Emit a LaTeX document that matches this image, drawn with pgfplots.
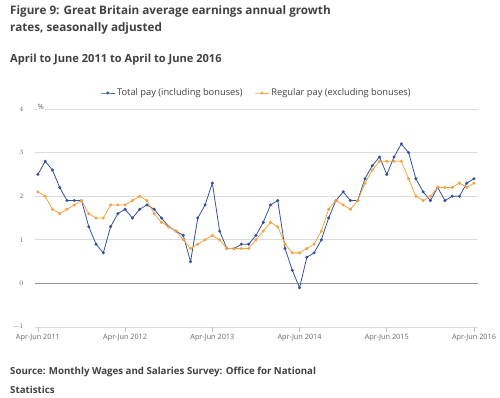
\documentclass[border=0pt]{standalone}
\usepackage{pgfplots}
\pgfplotsset{compat=1.18}
\usepackage{fontspec}
\setmainfont{Open Sans}
\definecolor{tpay}{HTML}{34529F}
\definecolor{rpay}{HTML}{F4A23E}
\definecolor{txt}{HTML}{414042}
\definecolor{ticktxt}{HTML}{666666}
\definecolor{gridc}{HTML}{DDDDDD}

\pgfplotstableread{
idx total regular
0 2.5 2.1
1 2.8 2.0
2 2.6 1.7
3 2.2 1.6
4 1.9 1.7
5 1.9 1.8
6 1.9 1.9
7 1.3 1.6
8 0.9 1.5
9 0.7 1.5
10 1.3 1.8
11 1.6 1.8
12 1.7 1.8
13 1.5 1.9
14 1.7 2.0
15 1.8 1.9
16 1.7 1.6
17 1.5 1.4
18 1.3 1.3
19 1.2 1.2
20 1.1 1.0
21 0.5 0.8
22 1.5 0.9
23 1.8 1.0
24 2.3 1.1
25 1.2 1.0
26 0.8 0.8
27 0.8 0.8
28 0.9 0.8
29 0.9 0.8
30 1.1 1.0
31 1.4 1.2
32 1.8 1.4
33 1.9 1.3
34 0.8 0.9
35 0.3 0.7
36 -0.1 0.7
37 0.6 0.8
38 0.7 0.9
39 1.0 1.2
40 1.5 1.7
41 1.9 1.9
42 2.1 1.8
43 1.9 1.7
44 1.9 1.9
45 2.4 2.3
46 2.7 2.6
47 2.9 2.8
48 2.5 2.8
49 2.9 2.8
50 3.2 2.8
51 3.0 2.4
52 2.4 2.0
53 2.1 1.9
54 1.9 2.0
55 2.2 2.2
56 1.9 2.2
57 2.0 2.2
58 2.0 2.3
59 2.3 2.2
60 2.4 2.3
}\earnings

\begin{document}
\begin{tikzpicture}[x=1pt,y=1pt]
\begin{axis}[
  at={(35pt,71pt)}, anchor=south west,
  scale only axis, width=443pt, height=218pt,
  xmin=-0.4, xmax=60.55, ymin=-1, ymax=4,
  axis line style={draw=none},
  xtick={0,12,24,36,48,60},
  xticklabels={Apr-Jun 2011,Apr-Jun 2012,Apr-Jun 2013,Apr-Jun 2014,Apr-Jun 2015,Apr-Jun 2016},
  xtick pos=bottom,
  x tick style={draw=gridc!70!gray, line width=0.6pt},
  major tick length=5pt,
  tick align=outside,
  x tick label style={font=\fontsize{7.3}{8}\selectfont, text=ticktxt, yshift=1pt},
  ytick={-1,0,1,2,3,4},
  y tick style={draw=none},
  y tick label style={font=\fontsize{7.3}{8}\selectfont, text=ticktxt, xshift=-3pt},
  ymajorgrids,
  major grid style={draw=gridc, line width=0.6pt},
  extra y ticks={0},
  extra y tick labels={},
  extra y tick style={major grid style={draw=gray!85, line width=1.4pt}},
  legend columns=2,
  legend style={at={(0.5,1)}, anchor=center, yshift=16pt, draw=none, fill=none,
    font=\fontsize{9.3}{11}\selectfont, text=txt,
    /tikz/every even column/.append style={column sep=10pt}},
  legend image code/.code={\draw[mark repeat=2, mark phase=2] plot coordinates {(0pt,0pt) (7pt,0pt) (14pt,0pt)};},
  clip=false,
]
\addplot[tpay, line width=0.8pt, mark=*, mark size=1.1pt] table[x=idx, y=total] {\earnings};
\addlegendentry{Total pay (including bonuses)}
\addplot[rpay, line width=0.8pt, mark=*, mark size=1.1pt] table[x=idx, y=regular] {\earnings};
\addlegendentry{Regular pay (excluding bonuses)}
\end{axis}
\node[fill=white, inner sep=1pt, text=ticktxt, font=\fontsize{7.3}{8}\selectfont] at (41,291) {\%};
% titles
\node[anchor=base west, inner sep=0, text=txt, font=\bfseries\fontsize{11.7}{13}\selectfont] at (10,383) {Figure 9: Great Britain average earnings annual growth};
\node[anchor=base west, inner sep=0, text=txt, font=\bfseries\fontsize{11.7}{13}\selectfont] at (10,366) {rates, seasonally adjusted};
\node[anchor=base west, inner sep=0, text=txt, font=\bfseries\fontsize{11.1}{13}\selectfont] at (10,335) {April to June 2011 to April to June 2016};
% source
\node[anchor=base west, inner sep=0, text=txt, font=\bfseries\fontsize{9.7}{11}\selectfont] at (10,23) {Source: Monthly Wages and Salaries Survey: Office for National};
\node[anchor=base west, inner sep=0, text=txt, font=\bfseries\fontsize{9.7}{11}\selectfont] at (10,4) {Statistics};
\pgfresetboundingbox
\path[use as bounding box] (0,0) rectangle (500,398);
\end{tikzpicture}
\end{document}
